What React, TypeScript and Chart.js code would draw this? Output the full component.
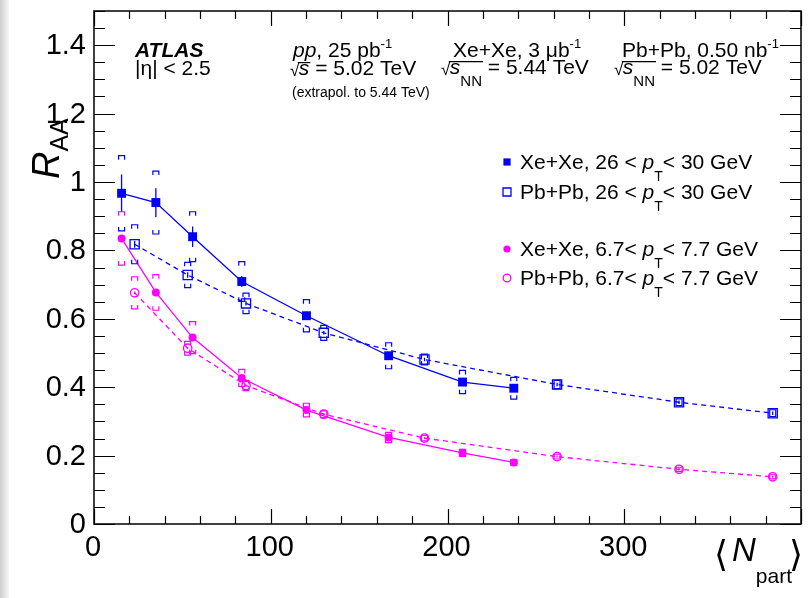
import React, { useEffect, useRef } from 'react';
import { Chart, registerables } from 'chart.js';

Chart.register(...registerables);

const FONT = '"Liberation Sans", Arial, Helvetica, sans-serif';
const BLUE = '#0000ff';
const MAGENTA = '#ff00ff';

// x: <N_part>, y: R_AA
const xMin = 0;
const xMax = 400;
const yMin = 0;
const yMax = 1.5;
const xTickLabels = [0, 100, 200, 300];
const yTickLabels = [0, 0.2, 0.4, 0.6, 0.8, 1, 1.2, 1.4];

const xeNpart = [15.6, 35.0, 55.8, 83.6, 120.2, 166.7, 208.5, 237.5];
const pbNpart = [23, 53, 86, 130, 187, 262, 331, 384];

const xeHigh = [0.967, 0.94, 0.84, 0.709, 0.609, 0.492, 0.415, 0.397];
const xeHighStat = [0.055, 0.042, 0.03, 0.016, 0.01, 0.008, 0.008, 0.008];
const xeHighSys = [0.11, 0.092, 0.073, 0.058, 0.047, 0.038, 0.034, 0.032];

const pbHigh = [0.818, 0.728, 0.645, 0.559, 0.481, 0.408, 0.356, 0.324];
const pbHighStat = [0.01, 0.008, 0.006, 0.005, 0.005, 0.005, 0.005, 0.005];
const pbHighSys = [0.057, 0.037, 0.03, 0.022, 0.016, 0.012, 0.01, 0.01];

const xeLow = [0.835, 0.677, 0.545, 0.427, 0.333, 0.253, 0.208, 0.18];
const xeLowStat = [0.008, 0.006, 0.005, 0.004, 0.004, 0.004, 0.004, 0.004];
const xeLowSys = [0.078, 0.052, 0.047, 0.025, 0.02, 0.015, 0.01, 0.008];

const pbLow = [0.676, 0.514, 0.405, 0.321, 0.251, 0.197, 0.16, 0.138];
const pbLowStat = [0.004, 0.003, 0.003, 0.003, 0.003, 0.003, 0.003, 0.003];
const pbLowSys = [0.047, 0.02, 0.015, 0.01, 0.008, 0.007, 0.006, 0.006];

type Part = { t: string; s: number; it?: boolean; b?: boolean; dy?: number };

const series = [
  { name: 'xeHigh', n: xeNpart, v: xeHigh, stat: xeHighStat, sys: xeHighSys, color: BLUE, shape: 'rect', filled: true, dashed: false },
  { name: 'pbHigh', n: pbNpart, v: pbHigh, stat: pbHighStat, sys: pbHighSys, color: BLUE, shape: 'rect', filled: false, dashed: true },
  { name: 'xeLow', n: xeNpart, v: xeLow, stat: xeLowStat, sys: xeLowSys, color: MAGENTA, shape: 'circle', filled: true, dashed: false },
  { name: 'pbLow', n: pbNpart, v: pbLow, stat: pbLowStat, sys: pbLowSys, color: MAGENTA, shape: 'circle', filled: false, dashed: true },
];

const legendRows: { s: number; y: number; parts: Part[] }[] = [
  { s: 0, y: 169, parts: [{ t: 'Xe+Xe, 26 < ', s: 21 }, { t: 'p', s: 21, it: true }, { t: 'T', s: 14, dy: 12 }, { t: '< 30 GeV', s: 21 }] },
  { s: 1, y: 199, parts: [{ t: 'Pb+Pb, 26 < ', s: 21 }, { t: 'p', s: 21, it: true }, { t: 'T', s: 14, dy: 12 }, { t: '< 30 GeV', s: 21 }] },
  { s: 2, y: 256, parts: [{ t: 'Xe+Xe, 6.7< ', s: 21 }, { t: 'p', s: 21, it: true }, { t: 'T', s: 14, dy: 12 }, { t: '< 7.7 GeV', s: 21 }] },
  { s: 3, y: 285, parts: [{ t: 'Pb+Pb, 6.7< ', s: 21 }, { t: 'p', s: 21, it: true }, { t: 'T', s: 14, dy: 12 }, { t: '< 7.7 GeV', s: 21 }] },
];

function setFont(ctx: CanvasRenderingContext2D, p: Part) {
  ctx.font = `${p.it ? 'italic ' : ''}${p.b ? 'bold ' : ''}${p.s}px ${FONT}`;
}

function rich(ctx: CanvasRenderingContext2D, x: number, y: number, parts: Part[]) {
  let cx = x;
  for (const p of parts) {
    setFont(ctx, p);
    ctx.fillText(p.t, cx, y + (p.dy || 0));
    cx += ctx.measureText(p.t).width;
  }
  return cx;
}

function sqrtRich(ctx: CanvasRenderingContext2D, x: number, y: number, inner: Part[], rest: Part[]) {
  ctx.font = `17px ${FONT}`;
  ctx.fillText('\u221A', x, y + 1);
  const m = ctx.measureText('\u221A');
  const top = y + 1 - m.actualBoundingBoxAscent;
  const sx = x + m.width - 0.5;
  const ex = rich(ctx, sx, y, inner);
  ctx.save();
  ctx.lineWidth = 1.2;
  ctx.beginPath();
  ctx.moveTo(sx - 1, top + 0.6);
  ctx.lineTo(ex + 1, top + 0.6);
  ctx.stroke();
  ctx.restore();
  return rich(ctx, ex, y, rest);
}

function drawMarker(ctx: CanvasRenderingContext2D, shape: string, filled: boolean, color: string, x: number, y: number) {
  ctx.save();
  ctx.fillStyle = color;
  ctx.strokeStyle = color;
  ctx.lineWidth = 1.3;
  ctx.beginPath();
  if (shape === 'rect') {
    const h = filled ? 3.6 : 4;
    ctx.rect(x - h, y - h, 2 * h, 2 * h);
  } else {
    ctx.arc(x, y, filled ? 3.6 : 3.8, 0, Math.PI * 2);
  }
  if (filled) ctx.fill();
  else ctx.stroke();
  ctx.restore();
}

const decor = {
  id: 'decor',
  beforeDatasetsDraw(chart: any) {
    const ctx: CanvasRenderingContext2D = chart.ctx;
    const xs = chart.scales.x;
    const ys = chart.scales.y;
    ctx.save();
    for (const s of series) {
      ctx.strokeStyle = s.color;
      ctx.lineWidth = 1.3;
      s.n.forEach((n, i) => {
        const px = xs.getPixelForValue(n);
        ctx.beginPath();
        ctx.moveTo(px, ys.getPixelForValue(s.v[i] + s.stat[i]));
        ctx.lineTo(px, ys.getPixelForValue(s.v[i] - s.stat[i]));
        ctx.stroke();
      });
    }
    ctx.restore();
  },
  afterDatasetsDraw(chart: any) {
    const ctx: CanvasRenderingContext2D = chart.ctx;
    const xs = chart.scales.x;
    const ys = chart.scales.y;
    ctx.save();
    for (const s of series) {
      ctx.strokeStyle = s.color;
      ctx.lineWidth = 1.2;
      s.n.forEach((n, i) => {
        const px = xs.getPixelForValue(n);
        const top = ys.getPixelForValue(s.v[i] + s.sys[i]);
        const bot = ys.getPixelForValue(s.v[i] - s.sys[i]);
        const hw = 3;
        const leg = 4;
        ctx.beginPath();
        ctx.moveTo(px - hw, top + leg);
        ctx.lineTo(px - hw, top);
        ctx.lineTo(px + hw, top);
        ctx.lineTo(px + hw, top + leg);
        ctx.moveTo(px - hw, bot - leg);
        ctx.lineTo(px - hw, bot);
        ctx.lineTo(px + hw, bot);
        ctx.lineTo(px + hw, bot - leg);
        ctx.stroke();
      });
    }
    ctx.restore();
  },
  afterDraw(chart: any) {
    const ctx: CanvasRenderingContext2D = chart.ctx;
    const xs = chart.scales.x;
    const ys = chart.scales.y;
    const a = chart.chartArea;
    ctx.save();
    ctx.strokeStyle = '#000';
    ctx.fillStyle = '#000';
    // frame
    ctx.lineWidth = 1.5;
    ctx.strokeRect(a.left, a.top, a.right - a.left, a.bottom - a.top);
    // ticks on all four sides
    ctx.lineWidth = 1.2;
    ctx.beginPath();
    for (let k = 0; k <= 30; k++) {
      const v = k * 0.05;
      if (v > yMax + 1e-9) break;
      const py = Math.round(ys.getPixelForValue(v)) + 0.5;
      const len = k % 4 === 0 ? 21 : 11;
      ctx.moveTo(a.left, py);
      ctx.lineTo(a.left + len, py);
      ctx.moveTo(a.right, py);
      ctx.lineTo(a.right - len, py);
    }
    for (let k = 0; k <= 20; k++) {
      const v = k * 20;
      if (v > xMax) break;
      const px = Math.round(xs.getPixelForValue(v)) + 0.5;
      const len = k % 5 === 0 ? 15 : 8;
      ctx.moveTo(px, a.bottom);
      ctx.lineTo(px, a.bottom - len);
      ctx.moveTo(px, a.top);
      ctx.lineTo(px, a.top + len);
    }
    ctx.stroke();

    // tick labels
    ctx.font = `29px ${FONT}`;
    ctx.textAlign = 'right';
    ctx.textBaseline = 'middle';
    for (const v of yTickLabels) {
      ctx.fillText(String(v), a.left - 8, ys.getPixelForValue(v) + 1);
    }
    ctx.textAlign = 'center';
    ctx.textBaseline = 'top';
    for (const v of xTickLabels) {
      ctx.fillText(String(v), xs.getPixelForValue(v) - 1, a.bottom + 9);
    }
    ctx.textAlign = 'left';
    ctx.textBaseline = 'alphabetic';

    // axis titles
    ctx.save();
    ctx.translate(59, 179);
    ctx.rotate(-Math.PI / 2);
    rich(ctx, 0, 0, [{ t: 'R', s: 38, it: true }, { t: 'AA', s: 25, dy: 9 }]);
    ctx.restore();

    ctx.font = `36px "DejaVu Sans", ${FONT}`;
    ctx.fillText('\u27E8', 714, 566);
    const ex = rich(ctx, 732, 561, [{ t: 'N', s: 33, it: true }, { t: 'part', s: 21, dy: 22 }]);
    ctx.font = `36px "DejaVu Sans", ${FONT}`;
    ctx.fillText('\u27E9', ex - 3, 566);

    // header texts
    rich(ctx, 135, 57, [{ t: 'ATLAS', s: 21, it: true, b: true }]);
    rich(ctx, 135, 75, [{ t: '|\u03B7| < 2.5', s: 21 }]);
    rich(ctx, 293, 57, [{ t: 'pp', s: 21, it: true }, { t: ', 25 pb', s: 21 }, { t: '-1', s: 13, dy: -9 }]);
    sqrtRich(ctx, 290, 75, [{ t: 's', s: 21, it: true }], [{ t: ' = 5.02 TeV', s: 21 }]);
    rich(ctx, 292, 97, [{ t: '(extrapol. to 5.44 TeV)', s: 14 }]);
    rich(ctx, 453, 57, [{ t: 'Xe+Xe, 3 \u03BCb', s: 21 }, { t: '-1', s: 13, dy: -9 }]);
    rich(ctx, 622, 57, [{ t: 'Pb+Pb, 0.50 nb', s: 21 }, { t: '-1', s: 13, dy: -9 }]);
    sqrtRich(ctx, 441, 74, [{ t: 's', s: 21, it: true }, { t: 'NN', s: 15, dy: 12 }], [{ t: ' = 5.44 TeV', s: 21 }]);
    sqrtRich(ctx, 614, 74, [{ t: 's', s: 21, it: true }, { t: 'NN', s: 15, dy: 12 }], [{ t: ' = 5.02 TeV', s: 21 }]);

    // legend
    for (const r of legendRows) {
      const s = series[r.s];
      drawMarker(ctx, s.shape, s.filled, s.color, 507, r.y - 7);
      ctx.fillStyle = '#000';
      rich(ctx, 520, r.y, r.parts);
    }
    ctx.restore();
  },
};

export default function App() {
  const ref = useRef<HTMLCanvasElement>(null);
  useEffect(() => {
    document.body.style.margin = '0';
    const datasets = series.map((s) => ({
      label: s.name,
      data: s.n.map((n, i) => ({ x: n, y: s.v[i] })),
      borderColor: s.color,
      backgroundColor: s.filled ? s.color : 'rgba(0,0,0,0)',
      pointBackgroundColor: s.filled ? s.color : 'rgba(0,0,0,0)',
      pointBorderColor: s.color,
      pointStyle: s.shape,
      pointRadius: s.shape === 'rect' ? (s.filled ? 6.3 : 6.5) : s.filled ? 4 : 4.2,
      pointBorderWidth: s.filled ? 0 : 1.3,
      borderWidth: 1.3,
      borderDash: s.dashed ? [5, 4] : [],
      tension: 0,
      fill: false,
      showLine: true,
    }));
    const chart = new Chart(ref.current!, {
      type: 'line',
      data: { datasets },
      options: {
        animation: false,
        responsive: false,
        devicePixelRatio: 1,
        layout: { padding: { left: 94, right: 10, top: 11, bottom: 74 } },
        plugins: { legend: { display: false }, tooltip: { enabled: false } },
        scales: {
          x: { type: 'linear', min: xMin, max: xMax, display: false },
          y: { type: 'linear', min: yMin, max: yMax, display: false },
        },
      },
      plugins: [decor],
    } as any);
    return () => chart.destroy();
  }, []);
  return (
    <div style={{ position: 'relative', width: 811, height: 598, background: '#fff', overflow: 'hidden' }}>
      <div style={{ position: 'absolute', left: 0, top: 0, width: 9, height: 598, background: 'linear-gradient(to right, #cdcdcd, #f6f6f6)' }} />
      <canvas ref={ref} width={811} height={598} style={{ position: 'absolute', left: 0, top: 0, width: 811, height: 598 }} />
    </div>
  );
}
